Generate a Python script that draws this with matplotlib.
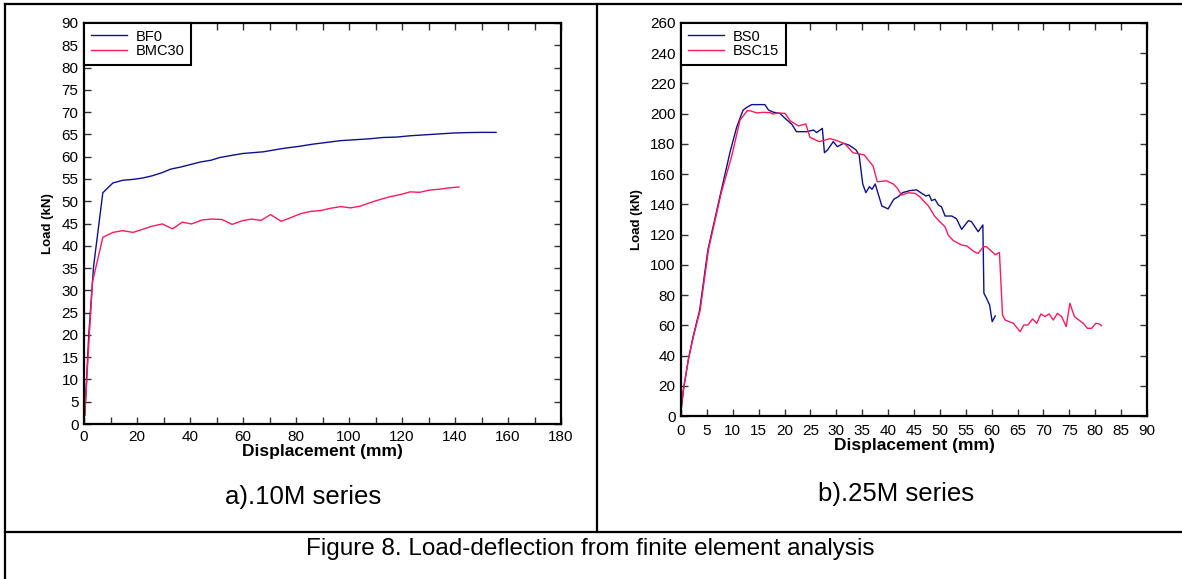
import matplotlib
matplotlib.use("Agg")
import matplotlib.pyplot as plt
from matplotlib.lines import Line2D
from matplotlib.ticker import FixedLocator, FuncFormatter

plt.rcParams['font.family'] = ['Liberation Sans', 'DejaVu Sans']

# a) 10M series
bf0_x = [0.3, 1.8, 3.6, 7.1, 10.9, 14.6, 18.5, 22.1, 25.7, 29.4, 32.7, 36.7, 40.6, 43.9, 47.9,
         51.2, 55.9, 59.8, 63.8, 67.8, 71.7, 75.7, 81.0, 86.3, 91.6, 96.9, 102.2, 107.5, 112.8,
         118.0, 123.3, 128.6, 133.9, 139.2, 144.5, 149.8, 155.5]
bf0_y = [2.0, 20.0, 35.3, 51.9, 54.1, 54.7, 54.9, 55.2, 55.7, 56.4, 57.2, 57.7, 58.3, 58.8, 59.2,
         59.8, 60.3, 60.7, 60.9, 61.1, 61.5, 61.9, 62.3, 62.8, 63.2, 63.6, 63.8, 64.0, 64.3,
         64.4, 64.7, 64.9, 65.1, 65.3, 65.4, 65.45, 65.45]
bmc30_x = [0.3, 2.0, 3.2, 7.1, 10.9, 14.6, 18.5, 22.1, 25.7, 29.6, 33.4, 37.1, 40.6, 44.6, 48.2,
           52.1, 55.9, 59.6, 63.1, 66.8, 70.4, 74.4, 78.0, 81.7, 85.4, 89.2, 92.9, 96.9, 100.6,
           104.2, 108.1, 111.8, 115.4, 119.4, 123.1, 126.7, 130.4, 134.2, 137.9, 141.5]
bmc30_y = [2.0, 20.0, 31.9, 41.9, 43.0, 43.4, 43.0, 43.7, 44.4, 44.9, 43.8, 45.3, 44.9, 45.8, 46.0,
           45.9, 44.8, 45.6, 46.0, 45.7, 47.0, 45.5, 46.3, 47.2, 47.7, 47.9, 48.4, 48.8, 48.5,
           48.9, 49.7, 50.4, 51.0, 51.5, 52.1, 52.0, 52.5, 52.7, 53.0, 53.2]

# b) 25M series
bs0_x = [0.0, 0.5, 1.4, 2.3, 3.6, 5.2, 7.5, 9.5, 10.75, 11.5, 12.0, 12.7, 13.65, 16.2, 16.9,
         17.8, 19.1, 20.3, 21.4, 22.3, 24.3, 25.6, 26.2, 27.3, 27.7, 28.3, 29.4, 30.2, 31.4,
         32.4, 33.2, 33.8, 34.4, 35.1, 35.7, 36.4, 36.9, 37.5, 38.8, 40.0, 41.1, 41.97, 42.8,
         44.2, 45.5, 46.5, 47.3, 47.95, 48.4, 49.05, 49.7, 50.3, 51.0, 52.3, 53.2, 54.2, 55.5,
         56.1, 57.4, 58.3, 58.5, 59.0, 59.6, 60.1, 60.7]
bs0_y = [3, 18, 37, 52, 70, 110, 145, 175, 191, 198, 202.4, 204.2, 206, 206, 202.4,
         201, 200.2, 196.3, 193, 188.1, 188.1, 189.2, 187.5, 190.3, 174.2, 176, 181.5, 178.2, 180.4,
         179.3, 177.5, 176, 172.7, 153.5, 147.8, 151.7, 150, 153.5, 138.9, 137, 143.4, 145.1, 147.8,
         149.1, 149.6, 147.3, 145.6, 146.2, 142.5, 143.4, 139.6, 138.5, 132.3, 132.3, 130.5, 123.5, 129.2,
         128.6, 121.9, 126.4, 81.2, 77.9, 73.5, 62.4, 66.2]
bsc15_x = [0.0, 0.45, 1.4, 2.4, 3.7, 5.3, 7.8, 9.8, 11.4, 12.8, 13.5, 14.6, 15.9, 17.2, 17.8,
           18.8, 20.1, 21.05, 22.7, 24.1, 24.9, 26.7, 28.8, 30.1, 31.7, 33.2, 35.4, 36.4, 37.1,
           37.9, 39.7, 41.0, 41.8, 42.6, 43.9, 45.2, 46.1, 47.8, 49.05, 50.0, 51.0, 51.6, 52.6,
           54.2, 55.2, 56.6, 57.4, 58.4, 59.0, 60.7, 61.5, 62.1, 62.6, 63.4, 64.2, 65.5, 66.2,
           67.0, 67.9, 68.7, 69.5, 70.3, 71.1, 71.9, 72.7, 73.5, 74.4, 75.1, 75.97, 76.9, 77.7,
           78.5, 79.3, 80.1, 80.7, 81.2]
bsc15_y = [4.4, 17.2, 37, 52.5, 70, 110, 148, 172, 195.8, 202, 201.8, 200.5, 200.9, 200.7, 199.8,
           200.5, 200.2, 195.4, 191.9, 193.2, 184.4, 181.5, 183.5, 182.2, 180, 174.2, 172.7, 168.3, 165.4,
           155, 155.6, 153.5, 150.6, 146.2, 147.7, 147.3, 145.1, 138.9, 131.9, 128.5, 125.2, 119.7, 116,
           113.1, 112.5, 108.7, 107.6, 112, 112, 106.7, 108.2, 66.8, 63.5, 62.4, 61.3, 55.8, 60.2,
           60.2, 64.2, 61.3, 67.5, 65.8, 67.5, 63.5, 67.9, 65.8, 59.2, 74.6, 65.8, 63.3, 61.3,
           58.0, 58.0, 61.3, 61.0, 59.8]

BLUE = '#10108c'
PINK = '#ff1a5c'
W, H = 1182, 579

fig = plt.figure(figsize=(W / 100, H / 100), dpi=100)


def px_axes(x0, y0, x1, y1):
    """Tạo trục theo toạ độ pixel (gốc ở góc trên trái)"""
    return fig.add_axes([x0 / W, 1 - y1 / H, (x1 - x0) / W, (y1 - y0) / H])


def fig_line(xs, ys):
    fig.add_artist(Line2D([x / W for x in xs], [1 - y / H for y in ys],
                          color='black', lw=1.6, transform=fig.transFigure))


def style_axes(ax, xmax, xstep, xlabel_step, ymax, ystep, xpad):
    ax.set_xlim(0, xmax)
    ax.set_ylim(0, ymax)
    xt = list(range(0, xmax + 1, xstep))
    ax.xaxis.set_major_locator(FixedLocator(xt))
    ax.xaxis.set_major_formatter(FuncFormatter(lambda v, p: f"{int(v)}" if int(v) % xlabel_step == 0 else ""))
    ax.set_yticks(list(range(0, ymax + 1, ystep)))
    ax.tick_params(direction='in', top=True, right=True, length=5, width=1,
                   labelsize=11, color='#333333')
    ax.tick_params(axis='x', pad=xpad)
    ax.tick_params(axis='y', pad=4)
    for s in ax.spines.values():
        s.set_linewidth(1.6)
    ax.set_xlabel("Displacement (mm)", fontsize=12.5, fontweight='bold', labelpad=0)
    ax.set_ylabel("Load (kN)", fontsize=9.5, fontweight='bold', labelpad=5)


def add_legend(ax):
    leg = ax.legend(loc='upper left', borderaxespad=0, fancybox=False, framealpha=1,
                    edgecolor='black', fontsize=10.5, handlelength=2.5, borderpad=0.45,
                    labelspacing=0.05, handletextpad=0.6)
    leg.get_frame().set_linewidth(1.5)


ax1 = px_axes(84, 23, 561, 424)
ax1.plot(bf0_x, bf0_y, color=BLUE, lw=1.0, label="BF0")
ax1.plot(bmc30_x, bmc30_y, color=PINK, lw=1.0, label="BMC30")
style_axes(ax1, 180, 10, 20, 90, 5, 4)
add_legend(ax1)

ax2 = px_axes(681, 23, 1147, 416)
ax2.plot(bs0_x, bs0_y, color=BLUE, lw=1.0, label="BS0")
ax2.plot(bsc15_x, bsc15_y, color=PINK, lw=1.0, label="BSC15")
style_axes(ax2, 90, 5, 5, 260, 20, 6)
add_legend(ax2)

# khung bảng
fig_line([5, W], [4, 4])
fig_line([5, 5], [4, H])
fig_line([597, 597], [4, 532])
fig_line([5, W], [532, 532])

fig.text(303 / W, 1 - 497 / H, "a).10M series", ha='center', va='center', fontsize=18.5)
fig.text(896 / W, 1 - 494 / H, "b).25M series", ha='center', va='center', fontsize=18.5)
fig.text(590 / W, 1 - 549 / H, "Figure 8. Load-deflection from finite element analysis",
         ha='center', va='center', fontsize=17.5)

fig.savefig("out.png", dpi=100)
